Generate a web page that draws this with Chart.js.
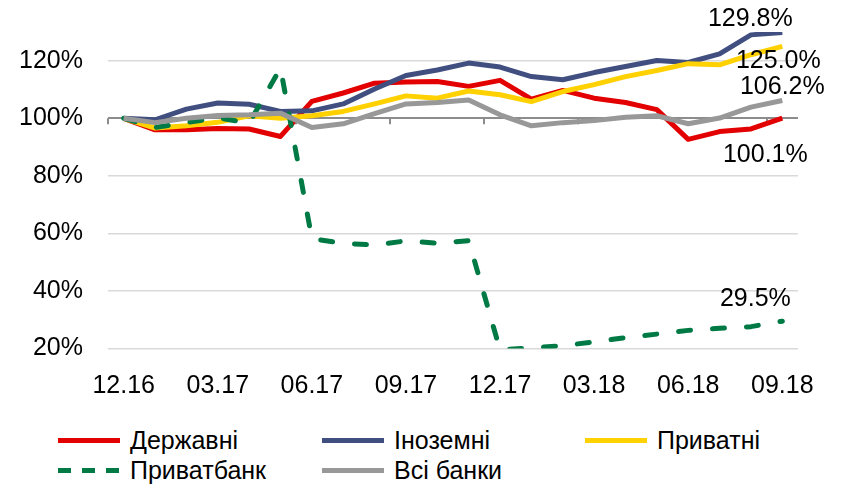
<!DOCTYPE html>
<html>
<head>
<meta charset="utf-8">
<script src="https://cdn.jsdelivr.net/npm/chart.js@4.4.1/dist/chart.umd.min.js"></script>
<style>
  body { margin: 0; background: #fff; font-family: "Liberation Sans", Arial, sans-serif; }
  #wrap { position: relative; width: 842px; height: 400px; }
  #legend { position: absolute; left: 58px; top: 425px; display: grid; grid-template-columns: 264px 263px 200px; }
  .item { display: flex; align-items: center; height: 30px; font-size: 25px; color: #000; white-space: nowrap; }
  .sw { width: 62px; height: 5px; margin-right: 10px; flex: none; }
</style>
</head>
<body>
<div id="wrap"><canvas id="chart" width="842" height="400"></canvas></div>
<div id="legend"></div>
<script>
// monthly points, 12.2016 = 100%
const months = ['12.16', '01.17', '02.17', '03.17', '04.17', '05.17', '06.17', '07.17', '08.17', '09.17', '10.17', '11.17',
                '12.17', '01.18', '02.18', '03.18', '04.18', '05.18', '06.18', '07.18', '08.18', '09.18'];
const derzhavni  = [100, 96.0, 96.0, 96.5, 96.3, 93.7, 105.9, 108.8, 112.2, 112.6, 112.8, 111.1, 113.2, 106.7, 109.7, 107.0, 105.5, 103.0, 92.7, 95.4, 96.3, 100.1];
const inozemni   = [100, 99.5, 103.2, 105.3, 104.9, 102.4, 102.6, 105.0, 110.2, 114.9, 116.8, 119.2, 117.8, 114.5, 113.4, 115.9, 118.0, 120.1, 119.4, 122.4, 129.0, 129.8];
const pryvatni   = [100, 96.6, 97.4, 98.6, 100.9, 100.0, 100.9, 102.4, 105.0, 107.8, 107.0, 109.5, 108.2, 105.8, 109.3, 111.7, 114.5, 116.6, 119.0, 118.6, 122.1, 125.0];
const privatbank = [100, 96.8, 98.5, 100.2, 98.3, 117.5, 58.2, 56.5, 56.0, 57.4, 56.6, 57.5, 19.5, 20.2, 21.0, 22.3, 23.8, 25.0, 26.3, 27.0, 27.6, 29.5];
const vsiBanky   = [100, 98.5, 100.0, 101.0, 101.2, 101.8, 96.8, 98.1, 101.6, 105.0, 105.5, 106.4, 101.2, 97.4, 98.5, 99.2, 100.4, 100.9, 98.1, 100.1, 103.9, 106.2];

const names  = ['Державні', 'Іноземні', 'Приватні', 'Приватбанк', 'Всі банки'];
const series = [derzhavni, inozemni, pryvatni, privatbank, vsiBanky];
const colors = ['#E30000', '#404F80', '#FFD100', '#007A45', '#989898'];
// where the end value label sits relative to the last point
const labelOffsets = [[-17, 37], [-32, -13], [-4, 15], [-27, -22], [0, -13]];

Chart.defaults.font.family = "'Liberation Sans', Arial, sans-serif";
Chart.defaults.color = '#000';

const datasets = series.map((data, i) => ({
    label: names[i],
    data: data,
    borderColor: colors[i],
    backgroundColor: colors[i],
    borderWidth: 5,
    pointRadius: 0,
    tension: 0,
    borderJoinStyle: 'round',
    borderCapStyle: i === 3 ? 'round' : 'butt',
    borderDash: i === 3 ? [12, 22] : [],
    order: series.length - i   // later series drawn on top, like the original
}));

const extras = {
    id: 'extras',
    beforeDatasetsDraw(chart) {
        // small tick marks hanging from the 100% line
        const ctx = chart.ctx, x = chart.scales.x, y = chart.scales.y;
        const y100 = y.getPixelForValue(100);
        const step = x.getPixelForValue(1) - x.getPixelForValue(0);
        ctx.save();
        ctx.strokeStyle = '#8c8c8c';
        ctx.lineWidth = 2;
        for (let k = 0; k < months.length; k += 3) {
            const px = Math.round(x.getPixelForValue(k) - step / 2);
            ctx.beginPath();
            ctx.moveTo(px, y100);
            ctx.lineTo(px, y100 + 6);
            ctx.stroke();
        }
        ctx.restore();
    },
    afterDatasetsDraw(chart) {
        const ctx = chart.ctx;
        ctx.save();
        ctx.font = "25px 'Liberation Sans', Arial, sans-serif";
        ctx.fillStyle = '#000';
        ctx.textAlign = 'center';
        ctx.textBaseline = 'middle';
        series.forEach((data, i) => {
            const pt = chart.getDatasetMeta(i).data[data.length - 1];
            const txt = data[data.length - 1].toFixed(1) + '%';
            ctx.fillText(txt, pt.x + labelOffsets[i][0], pt.y + labelOffsets[i][1]);
        });
        ctx.restore();
    }
};

new Chart(document.getElementById('chart'), {
    type: 'line',
    data: { labels: months, datasets: datasets },
    plugins: [extras],
    options: {
        responsive: false,
        animation: false,
        devicePixelRatio: 1,
        layout: { padding: { top: 32, right: 44, left: 0, bottom: 0 } },
        plugins: { legend: { display: false }, tooltip: { enabled: false } },
        scales: {
            x: {
                offset: true,
                grid: { display: false },
                border: { display: false },
                ticks: {
                    autoSkip: false, maxRotation: 0, padding: 15,
                    font: { size: 25 },
                    callback: (v, i) => (i % 3 === 0 ? months[i] : '')
                },
                afterFit: s => { s.height = 51.5; }
            },
            y: {
                min: 20, max: 130,
                border: { display: false },
                grid: {
                    drawTicks: false,
                    color: c => (c.tick && c.tick.value === 100 ? '#8c8c8c' : '#d9d9d9'),
                    lineWidth: c => (c.tick && c.tick.value === 100 ? 2 : 1.5)
                },
                ticks: {
                    stepSize: 20, includeBounds: false, padding: 25,
                    font: { size: 25 },
                    callback: v => v + '%'
                },
                afterFit: s => { s.width = 108; s.paddingTop = 0; s.paddingBottom = 0; }
            }
        }
    }
});

// legend laid out in three columns as in the original
const legend = document.getElementById('legend');
names.forEach((n, i) => {
    const item = document.createElement('div');
    item.className = 'item';
    const sw = document.createElement('span');
    sw.className = 'sw';
    sw.style.background = i === 3
        ? `repeating-linear-gradient(90deg, ${colors[i]} 0 13px, transparent 13px 24px)`
        : colors[i];
    item.appendChild(sw);
    item.appendChild(document.createTextNode(n));
    legend.appendChild(item);
});
</script>
</body>
</html>
